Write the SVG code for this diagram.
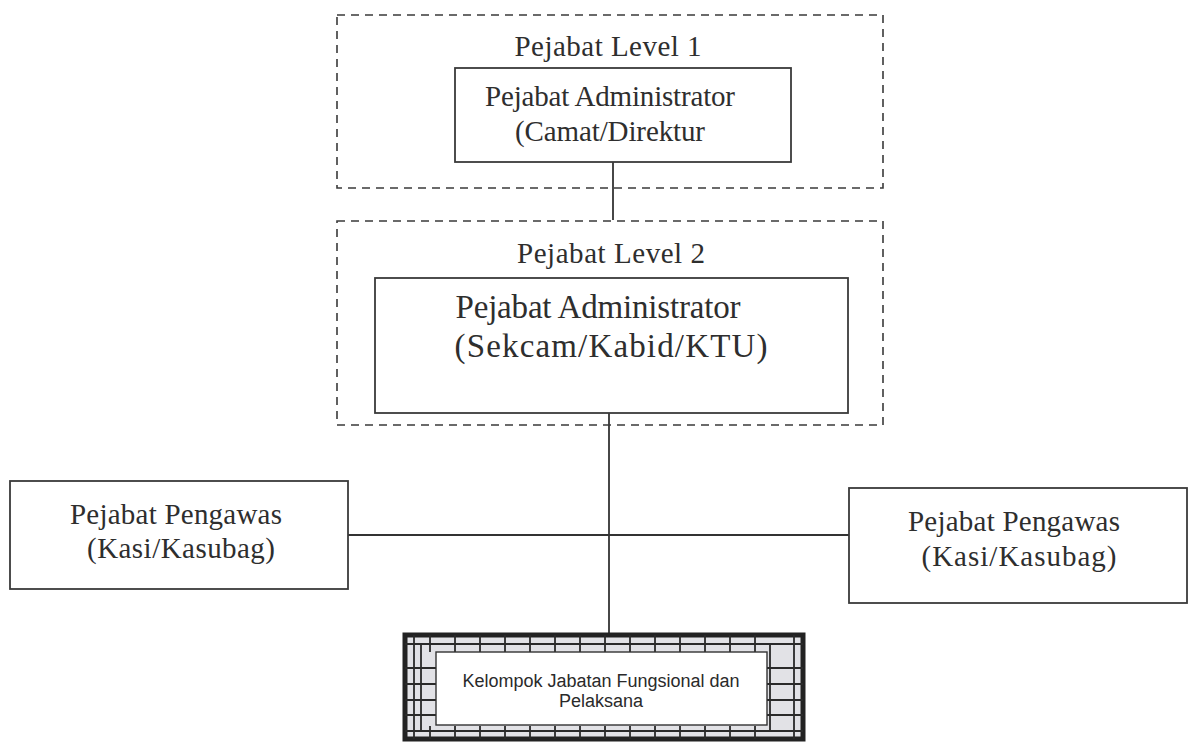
<svg xmlns="http://www.w3.org/2000/svg" width="1189" height="744" viewBox="0 0 1189 744">
  <style>
    .bg { fill: #ffffff; }
    .group { fill: none; stroke: #3a3a3a; stroke-width: 1.6; stroke-dasharray: 8 6; }
    .box { fill: #ffffff; stroke: #3a3a3a; stroke-width: 1.8; }
    .link { fill: none; stroke: #333333; stroke-width: 1.8; }
    .t { font-family: "Liberation Serif", "DejaVu Serif", serif; fill: #2e2e2e; text-anchor: middle; }
    .s { font-family: "Liberation Sans", Arial, sans-serif; fill: #2a2a2a; text-anchor: middle; font-size: 18px; }
    .frame { fill: #e2e2e6; stroke: #222222; stroke-width: 5; }
    .grid { fill: none; stroke: #2a2a2a; stroke-width: 1.8; }
  </style>
  <rect class="bg" x="0" y="0" width="1189" height="744"/>

  <!-- connectors -->
  <g id="connectors">
    <line class="link" x1="613" y1="162" x2="613" y2="220"/>
    <line class="link" x1="609" y1="412" x2="609" y2="634"/>
    <line class="link" x1="348" y1="535" x2="849" y2="535"/>
  </g>

  <!-- level 1 -->
  <g id="level1">
    <rect class="group" x="337" y="15" width="546" height="173"/>
    <text class="t" x="608" y="56" font-size="29" textLength="187">Pejabat Level 1</text>
  </g>
  <g id="admin1">
    <rect class="box" x="455" y="68" width="336" height="94"/>
    <text class="t" x="610" y="106" font-size="29" textLength="250">Pejabat Administrator</text>
    <text class="t" x="610" y="141" font-size="29" textLength="190">(Camat/Direktur</text>
  </g>

  <!-- level 2 -->
  <g id="level2">
    <rect class="group" x="337" y="221" width="546" height="204"/>
    <text class="t" x="611" y="263" font-size="29" textLength="188">Pejabat Level 2</text>
  </g>
  <g id="admin2">
    <rect class="box" x="375" y="278" width="473" height="135"/>
    <text class="t" x="598" y="318" font-size="33" textLength="285">Pejabat Administrator</text>
    <text class="t" x="611" y="357" font-size="33" textLength="313">(Sekcam/Kabid/KTU)</text>
  </g>

  <!-- supervisors -->
  <g id="pengawas-left">
    <rect class="box" x="10" y="481" width="338" height="108"/>
    <text class="t" x="176" y="524" font-size="29" textLength="212">Pejabat Pengawas</text>
    <text class="t" x="181" y="558" font-size="29" textLength="188">(Kasi/Kasubag)</text>
  </g>
  <g id="pengawas-right">
    <rect class="box" x="849" y="488" width="338" height="115"/>
    <text class="t" x="1014" y="531" font-size="29" textLength="212">Pejabat Pengawas</text>
    <text class="t" x="1019" y="566" font-size="29" textLength="195">(Kasi/Kasubag)</text>
  </g>

  <!-- functional group with tiled frame -->
  <g id="fungsional">
    <rect class="frame" x="405" y="635" width="398" height="104"/>
    <!-- strip lines -->
    <path class="grid" d="M405 644 H803 M405 731 H803 M414 635 V739 M421 644 V731 M770 644 V731 M794 635 V739"/>
    <!-- top and bottom tiles -->
    <path class="grid" d="M430 635 V652 M455 635 V652 M480 635 V652 M505 635 V652 M530 635 V652 M555 635 V652 M580 635 V652 M605 635 V652 M630 635 V652 M655 635 V652 M680 635 V652 M705 635 V652 M730 635 V652 M755 635 V652
      M430 726 V739 M455 726 V739 M480 726 V739 M505 726 V739 M530 726 V739 M555 726 V739 M580 726 V739 M605 726 V739 M630 726 V739 M655 726 V739 M680 726 V739 M705 726 V739 M730 726 V739 M755 726 V739"/>
    <!-- side tiles -->
    <path class="grid" d="M405 668 H436 M405 684 H436 M405 700 H436 M405 715 H436 M767 668 H803 M767 684 H803 M767 700 H803 M767 715 H803"/>
    <rect x="436" y="652" width="331" height="73" fill="#ffffff" stroke="#333333" stroke-width="1.4"/>
    <text class="s" x="601" y="687">Kelompok Jabatan Fungsional dan</text>
    <text class="s" x="601" y="707">Pelaksana</text>
  </g>
</svg>
